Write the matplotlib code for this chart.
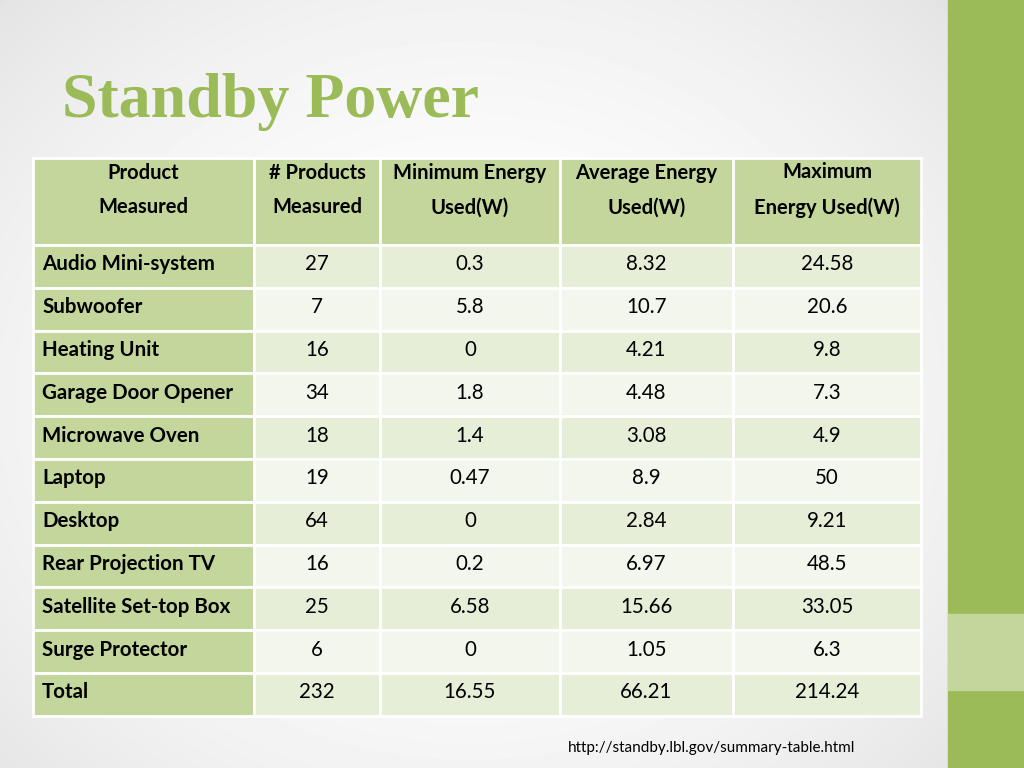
import numpy as np
import matplotlib.pyplot as plt
from matplotlib.patches import Rectangle

headers = ["Product\nMeasured", "# Products\nMeasured", "Minimum Energy\nUsed(W)",
           "Average Energy\nUsed(W)", "Maximum\nEnergy Used(W)"]
products = ["Audio Mini-system", "Subwoofer", "Heating Unit", "Garage Door Opener",
            "Microwave Oven", "Laptop", "Desktop", "Rear Projection TV",
            "Satellite Set-top Box", "Surge Protector", "Total"]
counts = ["27", "7", "16", "34", "18", "19", "64", "16", "25", "6", "232"]
min_w = ["0.3", "5.8", "0", "1.8", "1.4", "0.47", "0", "0.2", "6.58", "0", "16.55"]
avg_w = ["8.32", "10.7", "4.21", "4.48", "3.08", "8.9", "2.84", "6.97", "15.66", "1.05", "66.21"]
max_w = ["24.58", "20.6", "9.8", "7.3", "4.9", "50", "9.21", "48.5", "33.05", "6.3", "214.24"]

plt.rcParams['font.family'] = ['Lato', 'DejaVu Sans']
fig = plt.figure(figsize=(10.24, 7.68), dpi=100)
ax = fig.add_axes([0, 0, 1, 1])
ax.set_xlim(0, 1024)
ax.set_ylim(768, 0)
ax.axis('off')

# background: soft radial grey
yy, xx = np.mgrid[0:768, 0:1024]
r = np.sqrt(((xx - 470) / 700) ** 2 + ((yy - 400) / 600) ** 2)
bg = 1 - 0.12 * np.clip(r, 0, 1) ** 2
ax.imshow(bg, cmap='gray', vmin=0, vmax=1, extent=(0, 1024, 768, 0), zorder=0)

# right bands
ax.add_patch(Rectangle((948, 0), 76, 768, color='#9BBB59', zorder=1))
ax.add_patch(Rectangle((948, 614), 76, 76, color='#C3D69B', zorder=1))

ax.text(62, 102, "Standby Power", color='#9BBB59', fontsize=46, fontweight='bold',
        family='Liberation Serif', va='center', ha='left')

cols = [33, 254, 380, 560, 733, 921]
header_top, header_bot, row_h = 158, 245, 42.8
green = '#C3D69B'

for j in range(5):
    ax.add_patch(Rectangle((cols[j], header_top), cols[j + 1] - cols[j], header_bot - header_top,
                           facecolor=green, edgecolor='white', lw=2, zorder=2))
    ax.text((cols[j] + cols[j + 1]) / 2, 190, headers[j], ha='center', va='center',
            fontsize=14.5, fontweight='bold', linespacing=1.9, zorder=3)

data = [products, counts, min_w, avg_w, max_w]
for i in range(len(products)):
    y0 = header_bot + i * row_h
    fill = '#E7EED8' if i % 2 == 0 else '#F3F6EC'
    for j in range(5):
        fc = green if j == 0 else fill
        ax.add_patch(Rectangle((cols[j], y0), cols[j + 1] - cols[j], row_h,
                               facecolor=fc, edgecolor='white', lw=2, zorder=2))
        if j == 0:
            ax.text(cols[0] + 9, y0 + row_h / 2 - 2, data[j][i], ha='left', va='center',
                    fontsize=14.8, fontweight='bold', zorder=3)
        else:
            ax.text((cols[j] + cols[j + 1]) / 2, y0 + row_h / 2 - 2, data[j][i], ha='center',
                    va='center', fontsize=14.8, zorder=3)

ax.text(855, 748, "http://standby.lbl.gov/summary-table.html", ha='right', va='center',
        fontsize=11, zorder=3)

fig.savefig('out.png', dpi=100)
